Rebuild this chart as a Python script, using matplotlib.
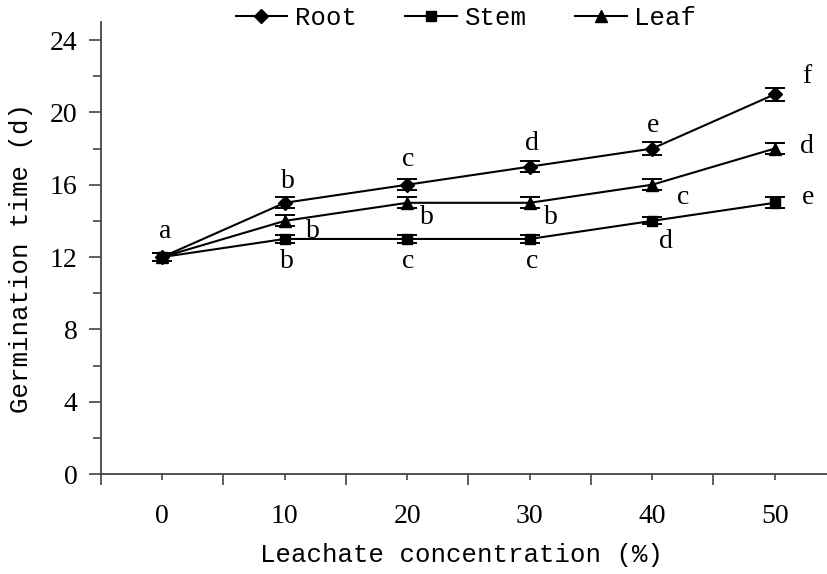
import numpy as np
import matplotlib.pyplot as plt

# Data
conc = [0, 10, 20, 30, 40, 50]
root = [12, 15, 16, 17, 18, 21]
stem = [12, 13, 13, 13, 14, 15]
leaf = [12, 14, 15, 15, 16, 18]
root_err = [0.2, 0.3, 0.3, 0.3, 0.35, 0.35]
stem_err = [0.2, 0.2, 0.2, 0.2, 0.2, 0.3]
leaf_err = [0.2, 0.3, 0.3, 0.3, 0.3, 0.3]

# significance letters: (x, y, text)
root_letters = [(0.2, 13.4, 'a'), (10.3, 16.2, 'b'), (20.1, 17.4, 'c'),
                (30.2, 18.3, 'd'), (40.1, 19.3, 'e'), (52.6, 22.0, 'f')]
leaf_letters = [(12.3, 13.4, 'b'), (21.6, 14.2, 'b'), (31.7, 14.2, 'b'),
                (42.5, 15.3, 'c'), (52.6, 18.1, 'd')]
stem_letters = [(10.2, 11.75, 'b'), (20.1, 11.75, 'c'), (30.2, 11.75, 'c'),
                (41.1, 12.85, 'd'), (52.7, 15.3, 'e')]

mono = 'Liberation Mono'
serif = 'Liberation Serif'

fig = plt.figure(figsize=(8.28, 5.74), dpi=100)
ax = fig.add_axes([101 / 828, 1 - 474 / 574, 727 / 828, (474 - 22) / 574])

series = [('Root', root, root_err, 'D', 7),
          ('Stem', stem, stem_err, 's', 7.5),
          ('Leaf', leaf, leaf_err, '^', 8.5)]
for name, vals, err, mk, ms in series:
    ax.errorbar(conc, vals, yerr=err, color='black', lw=1.5, marker=mk,
                markersize=ms, capsize=7, capthick=1.4, elinewidth=1.2,
                label=name, clip_on=False)

for x, y, s in root_letters + leaf_letters + stem_letters:
    ax.text(x, y, s, ha='center', va='center', fontsize=20, family=serif)

ax.set_xlim(-5, 54.35)
ax.set_ylim(0, 25)

ax.set_xticks(conc, minor=True)
ax.set_xticks(np.arange(-5, 55, 10))
ax.set_xticklabels([])
ax.tick_params(axis='x', which='major', length=8, width=1.2, color='#444', direction='out')
ax.tick_params(axis='x', which='minor', length=4, width=1.2, color='#444', direction='out')
for x in conc:
    ax.text(x, -0.095, str(x), transform=ax.get_xaxis_transform(),
            ha='center', va='center', fontsize=20, family=serif)

ax.set_yticks(np.arange(0, 25, 4))
ax.set_yticks(np.arange(2, 25, 4), minor=True)
ax.tick_params(axis='y', which='major', length=9, width=1.2, color='#444',
               labelsize=20, pad=8)
ax.tick_params(axis='y', which='minor', length=6, width=1.2, color='#444')
for lbl in ax.get_yticklabels():
    lbl.set_family(serif)

for side in ['top', 'right']:
    ax.spines[side].set_visible(False)
for side in ['left', 'bottom']:
    ax.spines[side].set_color('#444')
    ax.spines[side].set_linewidth(1.3)

fig.text(462 / 828, 1 - 555 / 574, 'Leachate concentration (%)', ha='center',
         va='center', fontsize=18.5, family=mono)
fig.text(21 / 828, 1 - 258 / 574, 'Germination time (d)', ha='center',
         va='center', rotation=90, fontsize=18.5, family=mono)

handles, labels = ax.get_legend_handles_labels()
handles = [h[0] for h in handles]
fig.legend(handles, labels, loc='center', bbox_to_anchor=(466 / 828, 1 - 18 / 574),
           ncol=3, frameon=False, prop={'family': mono, 'size': 18.5},
           handlelength=2.0, handletextpad=0.3, columnspacing=1.9)

fig.savefig('out.png', dpi=100)
